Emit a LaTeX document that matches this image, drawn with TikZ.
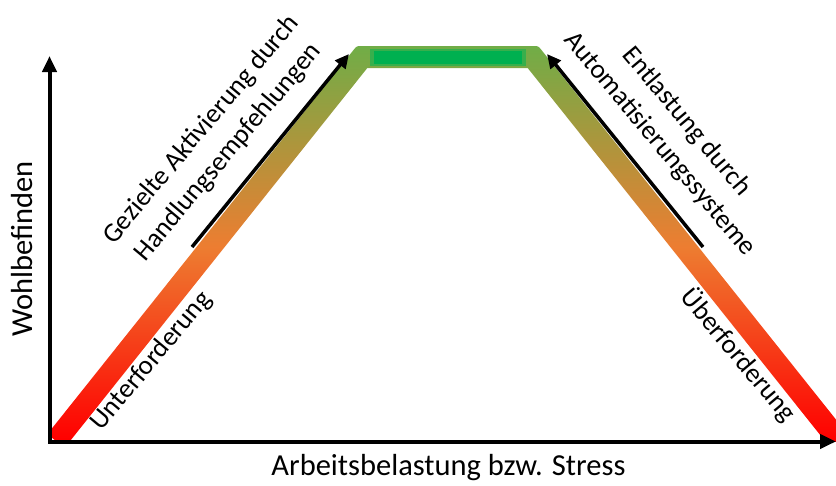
\documentclass[tikz,border=0pt]{standalone}
\usepackage{fontspec}
\setmainfont{Carlito}
\usetikzlibrary{arrows.meta}
\definecolor{bandgreen}{HTML}{70AD47}
\definecolor{bandorange}{HTML}{ED7D31}
\definecolor{bandred}{HTML}{FF0000}
\definecolor{topgreen}{HTML}{00B050}
\definecolor{topblend}{HTML}{38AF4C}
\pgfdeclareverticalshading{bandshade}{100bp}{color(0bp)=(bandred); color(26bp)=(bandred); color(50bp)=(bandorange); color(75bp)=(bandgreen); color(100bp)=(bandgreen)}
\tikzset{
  axisline/.style={line width=4pt, {Triangle[length=16pt,width=14pt]}-{Triangle[length=16pt,width=14pt]}},
  hintarrow/.style={line width=3.5pt, -{Triangle[length=14pt,width=13pt]}},
  axislabel/.style={font=\fontsize{30.5}{36}\selectfont, inner sep=0pt},
  diaglabel/.style={font=\fontsize{27}{35}\selectfont, inner sep=0pt, align=center}
}
\begin{document}
\begin{tikzpicture}[x=1pt,y=-1pt]
\useasboundingbox (0,0) rectangle (836,485);
% band
\begin{scope}
\clip (49.5,0) rectangle (836,441.5);
\shade[shading=bandshade] (47.4,434.14) -- (353.4,50.14) .. controls (356.7,46) .. (362,46) -- (533,46) .. controls (538.3,46) .. (541.6,50.14) -- (847.6,434.14) -- (830.4,447.86) -- (527.7,68) -- (367.3,68) -- (64.6,447.86) -- cycle;
\end{scope}
\fill[topblend] (370,48.5) rectangle (526,66);
\fill[topgreen] (374,51) rectangle (522,63.5);
% axes
\coordinate (O) at (49.5,441.5);
\coordinate (Ytip) at (49.5,56);
\coordinate (Xtip) at (836,441.5);
\draw[axisline] (Ytip) |- (Xtip);
% hint arrows
\coordinate (L1) at (192,247);
\coordinate (L2) at (349,54);
\coordinate (R1) at (703,247);
\coordinate (R2) at (547,54);
\draw[hintarrow] (L1) -- (L2);
\draw[hintarrow] (R1) -- (R2);
% labels
\node[axislabel, rotate=90, anchor=base] (ylab) at (32,249) {Wohlbefinden};
\node[axislabel, anchor=base] (xlab) at (448.5,475) {Arbeitsbelastung bzw. Stress};
\node[diaglabel, rotate=50] (act) at (215,141) {Gezielte Aktivierung durch\\Handlungsempfehlungen};
\node[diaglabel, rotate=-50] (ent) at (673,133) {Entlastung durch\\Automatisierungssysteme};
\node[diaglabel, rotate=50] (unter) at (151.5,361) {Unterforderung};
\node[diaglabel, rotate=-50] (ueber) at (739,355) {Überforderung};
\end{tikzpicture}
\end{document}
